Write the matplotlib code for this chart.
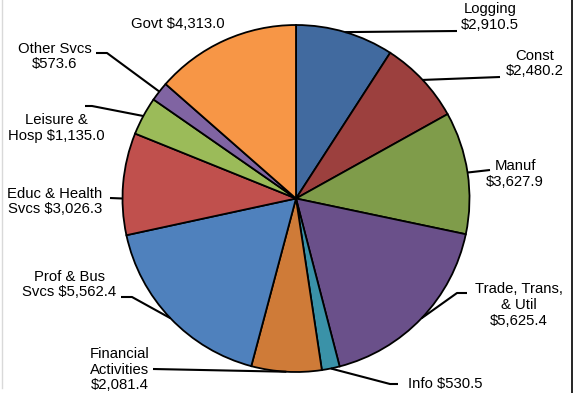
import numpy as np
import matplotlib
matplotlib.use('Agg')
import matplotlib.pyplot as plt

# Employment by sector, clockwise from 12 o'clock
sectores = ['Logging', 'Const', 'Manuf', 'Trade, Trans,\n& Util', 'Info',
            'Financial\nActivities', 'Prof & Bus\nSvcs', 'Educ & Health\nSvcs',
            'Leisure &\nHosp', 'Other Svcs', 'Govt']
valores = [2910.5, 2480.2, 3627.9, 5625.4, 530.5, 2081.4, 5562.4, 3026.3,
           1135.0, 573.6, 4313.0]
separadores = ['\n', '\n', '\n', '\n', ' ', '\n', ' ', ' ', ' ', '\n', ' ']
colores = ['#416a9f', '#9c403e', '#7f9c4a', '#6a508a', '#3a92a8', '#cf7b38',
           '#4f81bd', '#c0504d', '#9bbb59', '#8064a2', '#f79646']

W, H = 581, 393


def py(y):
    # pixel row -> data y
    return H - y


# text centre, end of leader at the label, optional elbow, optional anchor angle
disposicion = [
    ((490, 17), (457, 31), None, None),
    ((535, 63.5), (500, 77), None, None),
    ((515, 174), (490, 170), None, None),
    ((519, 305), (467, 293), (457, 293), None),
    ((445, 384), (398, 384), (390, 384), None),
    ((120, 369.5), (153, 369), None, None),
    ((69, 284.5), (121, 297), (132, 297), None),
    ((55, 201.5), (110, 198), None, 180.0),
    ((56, 128), (85, 106), (92, 106), None),
    ((55, 56.5), (96, 53), (107, 53), None),
    ((178, 24), None, None, None),
]

fig = plt.figure(figsize=(W / 100, H / 100), dpi=100)
ax = fig.add_axes([0, 0, 1, 1])

wedges, _ = ax.pie(valores, colors=colores, startangle=90, counterclock=False,
                   center=(296, py(198.5)), radius=173.5,
                   wedgeprops=dict(edgecolor='black', linewidth=1.3))
ax.set_xlim(0, W)
ax.set_ylim(0, H)
ax.set_aspect('auto')
ax.axis('off')

fuente = dict(family='Liberation Sans', size=10.7, color='black')

for w, nombre, sep, v, (txt, fin, codo, ang) in zip(
        wedges, sectores, separadores, valores, disposicion):
    etiqueta = f"{nombre}{sep}${v:,.1f}"
    ax.text(txt[0], py(txt[1]), etiqueta, ha='center', va='center',
            multialignment='center', linespacing=1.15, **fuente)
    if fin is None:
        continue
    a = np.deg2rad(ang if ang is not None else (w.theta1 + w.theta2) / 2)
    cx, cy = w.center
    xs = [cx + w.r * np.cos(a)]
    ys = [cy + w.r * np.sin(a)]
    if codo is not None:
        xs.append(codo[0])
        ys.append(py(codo[1]))
    xs.append(fin[0])
    ys.append(py(fin[1]))
    ax.plot(xs, ys, color='black', linewidth=1.5, solid_capstyle='butt')

# frame edges
ax.plot([572, 572], [0, H], color='black', linewidth=1.2)
ax.plot([2, 2], [py(388), H], color='#d9d9d9', linewidth=1.0)

fig.savefig('out.png', dpi=100, facecolor='white')
